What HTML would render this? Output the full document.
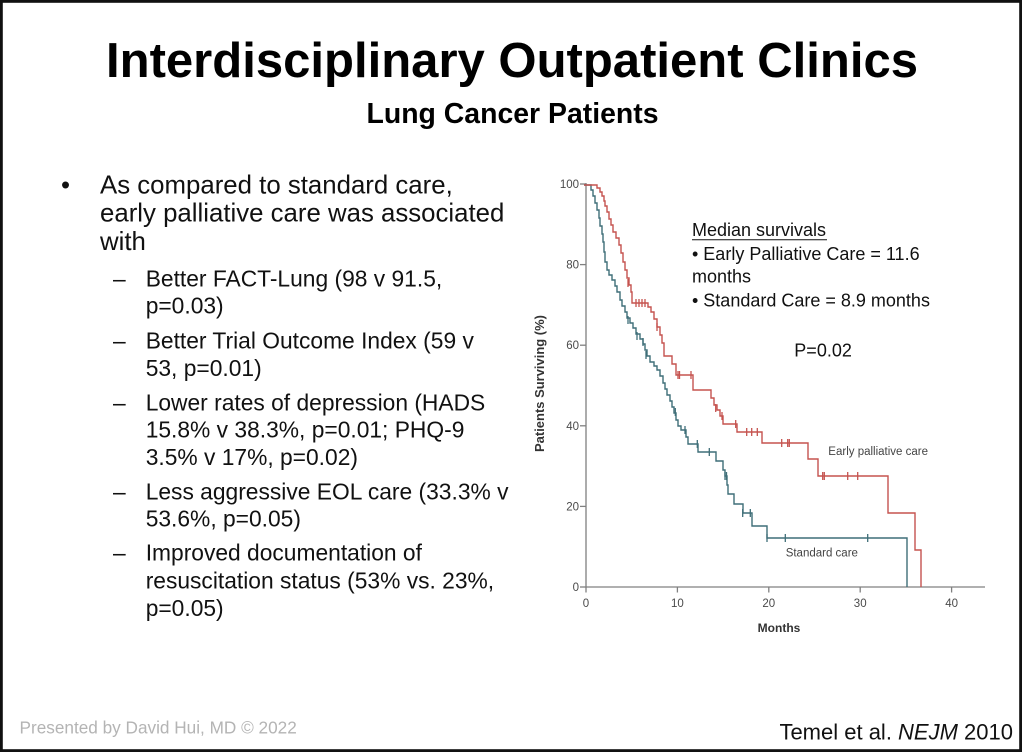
<!DOCTYPE html>
<html>
<head>
<meta charset="utf-8">
<style>
  html, body { margin:0; padding:0; background:#fff; }
  body { width:1024px; height:752px; overflow:hidden; }
  svg { display:block; }
  text { font-family: "Liberation Sans", Arial, sans-serif; }
</style>
</head>
<body>
<svg width="1024" height="752" viewBox="0 0 1024 752" xmlns="http://www.w3.org/2000/svg">
  <rect x="0" y="0" width="1024" height="752" fill="#fff"/>
  <rect x="1.4" y="1.4" width="1019.2" height="749.2" fill="none" stroke="#111" stroke-width="2.8"/>

  <!-- Title -->
  <text x="106" y="77" font-size="49" font-weight="bold" fill="#000" textLength="812" lengthAdjust="spacingAndGlyphs">Interdisciplinary Outpatient Clinics</text>
  <text x="366.5" y="123" font-size="28.5" font-weight="bold" fill="#000" textLength="292" lengthAdjust="spacingAndGlyphs">Lung Cancer Patients</text>

  <!-- Body bullets -->
  <g fill="#111" font-size="25.8">
    <text x="61" y="193.3">•</text>
    <text x="100" y="193.3">As compared to standard care,</text>
    <text x="100" y="221.7">early palliative care was associated</text>
    <text x="100" y="250">with</text>
  </g>
  <g fill="#111" font-size="22.8">
    <text x="113" y="286.7">–</text>
    <text x="145.7" y="286.7">Better FACT-Lung (98 v 91.5,</text>
    <text x="145.7" y="313.3">p=0.03)</text>
    <text x="113" y="348.3">–</text>
    <text x="145.7" y="348.3">Better Trial Outcome Index (59 v</text>
    <text x="145.7" y="376">53, p=0.01)</text>
    <text x="113" y="410.7">–</text>
    <text x="145.7" y="410.7">Lower rates of depression (HADS</text>
    <text x="145.7" y="437.3">15.8% v 38.3%, p=0.01; PHQ-9</text>
    <text x="145.7" y="465">3.5% v 17%, p=0.02)</text>
    <text x="113" y="499.3">–</text>
    <text x="145.7" y="499.3">Less aggressive EOL care (33.3% v</text>
    <text x="145.7" y="526.7">53.6%, p=0.05)</text>
    <text x="113" y="560.7">–</text>
    <text x="145.7" y="560.7">Improved documentation of</text>
    <text x="145.7" y="588.3">resuscitation status (53% vs. 23%,</text>
    <text x="145.7" y="616">p=0.05)</text>
  </g>

  <!-- Chart axes -->
  <g stroke="#808080" stroke-width="1.3" fill="none">
    <line x1="586" y1="183" x2="586" y2="587.6"/>
    <line x1="585.4" y1="587" x2="985" y2="587"/>
    <line x1="580" y1="587" x2="586" y2="587"/>
    <line x1="580" y1="506.4" x2="586" y2="506.4"/>
    <line x1="580" y1="425.8" x2="586" y2="425.8"/>
    <line x1="580" y1="345.2" x2="586" y2="345.2"/>
    <line x1="580" y1="264.6" x2="586" y2="264.6"/>
    <line x1="580" y1="184" x2="586" y2="184"/>
    <line x1="586" y1="587" x2="586" y2="592.5"/>
    <line x1="677.4" y1="587" x2="677.4" y2="592.5"/>
    <line x1="768.8" y1="587" x2="768.8" y2="592.5"/>
    <line x1="860.2" y1="587" x2="860.2" y2="592.5"/>
    <line x1="951.6" y1="587" x2="951.6" y2="592.5"/>
  </g>
  <g fill="#4a4a4a" font-size="11.5" text-anchor="end">
    <text x="579" y="591">0</text>
    <text x="579" y="510.4">20</text>
    <text x="579" y="429.8">40</text>
    <text x="579" y="349.2">60</text>
    <text x="579" y="268.6">80</text>
    <text x="579" y="188">100</text>
  </g>
  <g fill="#4a4a4a" font-size="11.5" text-anchor="middle">
    <text x="586" y="607">0</text>
    <text x="677.4" y="607">10</text>
    <text x="768.8" y="607">20</text>
    <text x="860.2" y="607">30</text>
    <text x="951.6" y="607">40</text>
  </g>
  <text x="779" y="632" font-size="12" font-weight="bold" fill="#333" text-anchor="middle">Months</text>
  <text transform="translate(544,383.5) rotate(-90)" font-size="12.5" font-weight="bold" fill="#333" text-anchor="middle" textLength="137" lengthAdjust="spacingAndGlyphs">Patients Surviving (%)</text>

  <!-- Standard care (teal) -->
  <path fill="none" stroke="#3f6e78" stroke-width="1.4" d="M584,185 H591 V190 H593 V196 H595 V203 H597 V210 H599 V218 H600 V226 H602 V234 H603 V242 H604 V252 H605 V262 H607 V270 H609 V275 H612 V280 H615 V286 H617 V292 H620 V300 H622 V306 H625 V312 H627 V318 H630 V323 H633 V328 H636 V334 H640 V339 H643 V344 H645 V350 H647 V356 H650 V362 H654 V366 H657 V370 H660 V376 H663 V383 H665 V389 H667 V395 H670 V401 H672 V407 H674 V413 H676 V420 H678 V426 H681 V430 H686 V437 H688 V444 H698 V452 H716 V461 H723 V470 H725 V476 H727 V485 H728 V494 H734 V504 H743 V513 H752 V526 H767 V538 H907 V587"/>
  <g stroke="#3f6e78" stroke-width="1.3">
    <line x1="628" y1="316" x2="628" y2="324"/>
    <line x1="637" y1="332" x2="637" y2="340"/>
    <line x1="643" y1="338" x2="643" y2="346"/>
    <line x1="646" y1="351" x2="646" y2="359"/>
    <line x1="675.3" y1="408" x2="675.3" y2="416"/>
    <line x1="685" y1="426" x2="685" y2="434"/>
    <line x1="697.3" y1="440" x2="697.3" y2="448"/>
    <line x1="709.3" y1="448" x2="709.3" y2="456"/>
    <line x1="725" y1="472" x2="725" y2="480"/>
    <line x1="726.5" y1="472" x2="726.5" y2="480"/>
    <line x1="742.7" y1="509" x2="742.7" y2="517"/>
    <line x1="750.3" y1="509" x2="750.3" y2="517"/>
    <line x1="767" y1="534" x2="767" y2="542"/>
    <line x1="785.3" y1="534" x2="785.3" y2="542"/>
    <line x1="867.7" y1="534" x2="867.7" y2="542"/>
  </g>

  <!-- Early palliative care (red) -->
  <path fill="none" stroke="#c5534f" stroke-width="1.4" d="M584,185 H597 V188 H600 V192 H602 V196 H604 V201 H605 V206 H607 V212 H609 V219 H611 V225 H613 V232 H616 V238 H619 V245 H621 V253 H623 V262 H625 V270 H627 V278 H629 V285 H631 V292 H632 V303 H648 V307 H651 V312 H654 V319 H657 V327 H660 V335 H662 V343 H664 V356 H672 V364 H676 V375 H693 V390 H711 V398 H714 V405 H717 V410 H720 V416 H723 V424 H737 V432 H762 V443 H808 V459 H818 V476 H888 V513 H915 V550 H921 V587"/>
  <g stroke="#c5534f" stroke-width="1.3">
    <line x1="628" y1="279" x2="628" y2="287"/>
    <line x1="636" y1="299" x2="636" y2="307"/>
    <line x1="639" y1="299" x2="639" y2="307"/>
    <line x1="642" y1="299" x2="642" y2="307"/>
    <line x1="645" y1="299" x2="645" y2="307"/>
    <line x1="657" y1="323" x2="657" y2="331"/>
    <line x1="678" y1="371" x2="678" y2="379"/>
    <line x1="679.5" y1="371" x2="679.5" y2="379"/>
    <line x1="691" y1="371" x2="691" y2="379"/>
    <line x1="715.7" y1="404" x2="715.7" y2="412"/>
    <line x1="722" y1="412" x2="722" y2="420"/>
    <line x1="735.7" y1="420" x2="735.7" y2="428"/>
    <line x1="746.7" y1="428" x2="746.7" y2="436"/>
    <line x1="751.7" y1="428" x2="751.7" y2="436"/>
    <line x1="757.3" y1="428" x2="757.3" y2="436"/>
    <line x1="781.7" y1="439" x2="781.7" y2="447"/>
    <line x1="787.7" y1="439" x2="787.7" y2="447"/>
    <line x1="789.3" y1="439" x2="789.3" y2="447"/>
    <line x1="822.7" y1="472" x2="822.7" y2="480"/>
    <line x1="824.3" y1="472" x2="824.3" y2="480"/>
    <line x1="847.7" y1="472" x2="847.7" y2="480"/>
    <line x1="857.7" y1="472" x2="857.7" y2="480"/>
  </g>

  <text x="828.3" y="455" font-size="11.5" fill="#444">Early palliative care</text>
  <text x="785.7" y="556.7" font-size="11.5" fill="#444">Standard care</text>

  <!-- Median survivals annotation -->
  <g fill="#111" font-size="18">
    <text x="692" y="236">Median survivals</text>
    <text x="692" y="260">• Early Palliative Care = 11.6</text>
    <text x="692" y="282.7">months</text>
    <text x="692" y="306.7">• Standard Care = 8.9 months</text>
    <text x="794.3" y="356.7">P=0.02</text>
  </g>
  <line x1="692" y1="239.7" x2="827" y2="239.7" stroke="#111" stroke-width="1"/>

  <!-- Footer -->
  <text x="19.5" y="733.3" font-size="17.2" fill="#b4b4b4">Presented by David Hui, MD © 2022</text>
  <text x="1013" y="739.3" font-size="22" fill="#111" text-anchor="end">Temel et al. <tspan font-style="italic">NEJM</tspan> 2010</text>
</svg>
</body>
</html>
